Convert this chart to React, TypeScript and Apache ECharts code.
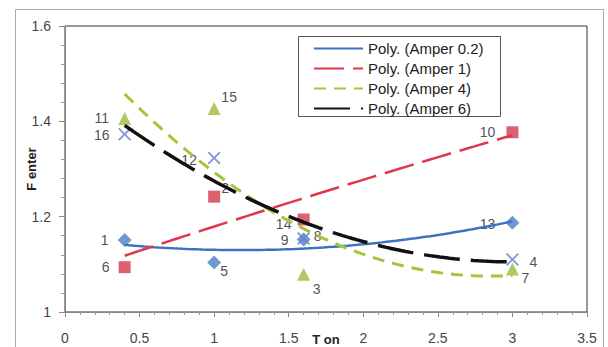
import React, { useEffect, useRef } from "react";
import * as echarts from "echarts";

// T on values shared by every Amper group
const tOn = [0.4, 1, 1.6, 3];

// F enter measured per Amper group
const amper02 = [1.151, 1.104, 1.152, 1.1875];
const amper1 = [1.094, 1.242, 1.194, 1.377];
const amper4 = [1.406, 1.427, 1.079, 1.09];
const amper6 = [1.373, 1.323, 1.154, 1.11];

// run numbers printed beside each point
const runs02 = [1, 5, 9, 13];
const runs1 = [6, 2, 14, 10];
const runs4 = [11, 15, 3, 7];
const runs6 = [16, 12, 8, 4];

const trendNames = [
  "Poly. (Amper 0.2)",
  "Poly. (Amper 1)",
  "Poly. (Amper 4)",
  "Poly. (Amper 6)",
];

const xTickLabels = ["0", "0.5", "1", "1.5", "2", "2.5", "3", "3.5"];
const yTickLabels = ["1", "1.2", "1.4", "1.6"];

// where each run number sits relative to its marker (pixels)
const labelOffsets: Record<number, [number, number]> = {
  1: [-20, 0],
  5: [10, 9],
  9: [-19, 0],
  13: [-25, 1],
  6: [-19, 0],
  2: [11, -9],
  14: [-20, 4],
  10: [-25, 0],
  11: [-23, 0],
  15: [15, -11],
  3: [13, 15],
  7: [13, 9],
  16: [-23, 1],
  12: [-25, 2],
  8: [14, -3],
  4: [21, 2],
};

const FONT = "'Liberation Sans', Arial, sans-serif";

// least-squares fit of y = a + b x + c x^2
function quadFit(xs: number[], ys: number[]): [number, number, number] {
  const s = [0, 0, 0, 0, 0];
  const t = [0, 0, 0];
  xs.forEach((x, i) => {
    for (let k = 0; k < 5; k++) s[k] += Math.pow(x, k);
    for (let k = 0; k < 3; k++) t[k] += Math.pow(x, k) * ys[i];
  });
  const m = [
    [s[0], s[1], s[2], t[0]],
    [s[1], s[2], s[3], t[1]],
    [s[2], s[3], s[4], t[2]],
  ];
  for (let i = 0; i < 3; i++) {
    for (let j = i + 1; j < 3; j++) {
      const f = m[j][i] / m[i][i];
      for (let k = i; k < 4; k++) m[j][k] -= f * m[i][k];
    }
  }
  const r = [0, 0, 0];
  for (let i = 2; i >= 0; i--) {
    let v = m[i][3];
    for (let k = i + 1; k < 3; k++) v -= m[i][k] * r[k];
    r[i] = v / m[i][i];
  }
  return [r[0], r[1], r[2]];
}

function trendPoints(xs: number[], ys: number[]) {
  const [a, b, c] = quadFit(xs, ys);
  const lo = Math.min(...xs);
  const hi = Math.max(...xs);
  const steps = 80;
  const out: number[][] = [];
  for (let i = 0; i <= steps; i++) {
    const x = lo + ((hi - lo) * i) / steps;
    out.push([x, a + b * x + c * x * x]);
  }
  return out;
}

const crossPath =
  "path://M0,1 L1,0 L5,4 L9,0 L10,1 L6,5 L10,9 L9,10 L5,6 L1,10 L0,9 L4,5 Z";

function scatterSeries(
  ys: number[],
  runs: number[],
  symbol: string,
  size: number,
  color: string
) {
  return {
    type: "scatter",
    z: 2,
    symbol,
    symbolSize: size,
    itemStyle: { color },
    data: ys.map((y, i) => ({
      value: [tOn[i], y],
      label: {
        show: true,
        position: "inside",
        offset: labelOffsets[runs[i]],
        formatter: String(runs[i]),
        fontSize: 14,
        color: "#222",
        fontFamily: FONT,
      },
    })),
  };
}

function lineSeries(
  name: string,
  ys: number[],
  color: string,
  width: number,
  dash: number[] | "solid"
) {
  return {
    type: "line",
    name,
    z: 3,
    symbol: "none",
    smooth: false,
    lineStyle: { color, width, type: dash },
    itemStyle: { color },
    data: trendPoints(tOn, ys),
  };
}

export default function App() {
  const ref = useRef<HTMLDivElement>(null);

  useEffect(() => {
    if (!ref.current) return;
    const chart = echarts.init(ref.current, undefined, { renderer: "svg" });
    chart.setOption({
      animation: false,
      backgroundColor: "#fff",
      textStyle: { fontFamily: FONT },
      grid: {
        left: 65,
        right: 21,
        top: 26,
        bottom: 35,
        outerBoundsMode: "none",
        containLabel: false,
        show: true,
        borderColor: "#333",
        borderWidth: 1,
      },
      graphic: [
        {
          type: "rect",
          z: 0,
          shape: { x: 15.5, y: 9.5, width: 588, height: 360 },
          style: { fill: "none", stroke: "#aaa", lineWidth: 1 },
        },
        {
          type: "rect",
          z: 4,
          shape: { x: 298.5, y: 36.5, width: 202, height: 80 },
          style: { fill: "#fff", stroke: "#555", lineWidth: 1 },
        },
      ],
      legend: {
        z: 5,
        data: trendNames,
        orient: "vertical",
        left: 313,
        top: 41,
        padding: 0,
        itemWidth: 49,
        itemHeight: 14,
        itemGap: 5,
        itemStyle: { opacity: 0 },
        textStyle: { fontSize: 15, color: "#222", fontFamily: FONT },
      },
      xAxis: {
        type: "value",
        min: 0,
        max: 3.5,
        interval: 0.5,
        name: "T on",
        nameLocation: "middle",
        nameGap: 21,
        nameMoveOverlap: false,
        nameTextStyle: {
          fontSize: 13,
          fontWeight: "bold",
          color: "#222",
          fontFamily: FONT,
        },
        axisLine: { lineStyle: { color: "#888" } },
        axisTick: { length: 5, lineStyle: { color: "#888" } },
        minorTick: {
          show: true,
          splitNumber: 5,
          length: 3,
          lineStyle: { color: "#999" },
        },
        splitLine: { show: false },
        axisLabel: {
          fontSize: 14,
          color: "#444",
          margin: 19,
          fontFamily: FONT,
          formatter: (_v: number, i: number) => xTickLabels[i] ?? "",
        },
      },
      yAxis: {
        type: "value",
        min: 1,
        max: 1.6,
        interval: 0.2,
        name: "F enter",
        nameLocation: "middle",
        nameGap: 27,
        nameMoveOverlap: false,
        nameTextStyle: {
          fontSize: 13,
          fontWeight: "bold",
          color: "#222",
          fontFamily: FONT,
        },
        axisLine: { show: true, lineStyle: { color: "#888" } },
        axisTick: { show: true, length: 6, lineStyle: { color: "#888" } },
        minorTick: {
          show: true,
          splitNumber: 5,
          length: 4,
          lineStyle: { color: "#999" },
        },
        splitLine: { show: false },
        axisLabel: {
          fontSize: 14,
          color: "#444",
          margin: 14,
          fontFamily: FONT,
          formatter: (_v: number, i: number) => yTickLabels[i] ?? "",
        },
      },
      series: [
        scatterSeries(amper02, runs02, "diamond", 14, "#4a7fc6"),
        scatterSeries(amper1, runs1, "rect", 12, "#d43a4c"),
        scatterSeries(amper4, runs4, "triangle", 13, "#9bbb3c"),
        scatterSeries(amper6, runs6, crossPath, 13, "#6a7bc9"),
        lineSeries(trendNames[0], amper02, "#3b73c4", 2.5, "solid"),
        lineSeries(trendNames[1], amper1, "#e0384a", 2.5, [30, 9]),
        lineSeries(trendNames[2], amper4, "#a4c43c", 3, [12, 8]),
        lineSeries(trendNames[3], amper6, "#111", 3.5, [36, 11]),
      ],
    });
    return () => chart.dispose();
  }, []);

  return (
    <div
      ref={ref}
      style={{
        position: "fixed",
        left: 0,
        top: 0,
        width: 608,
        height: 347,
        background: "#fff",
      }}
    />
  );
}
